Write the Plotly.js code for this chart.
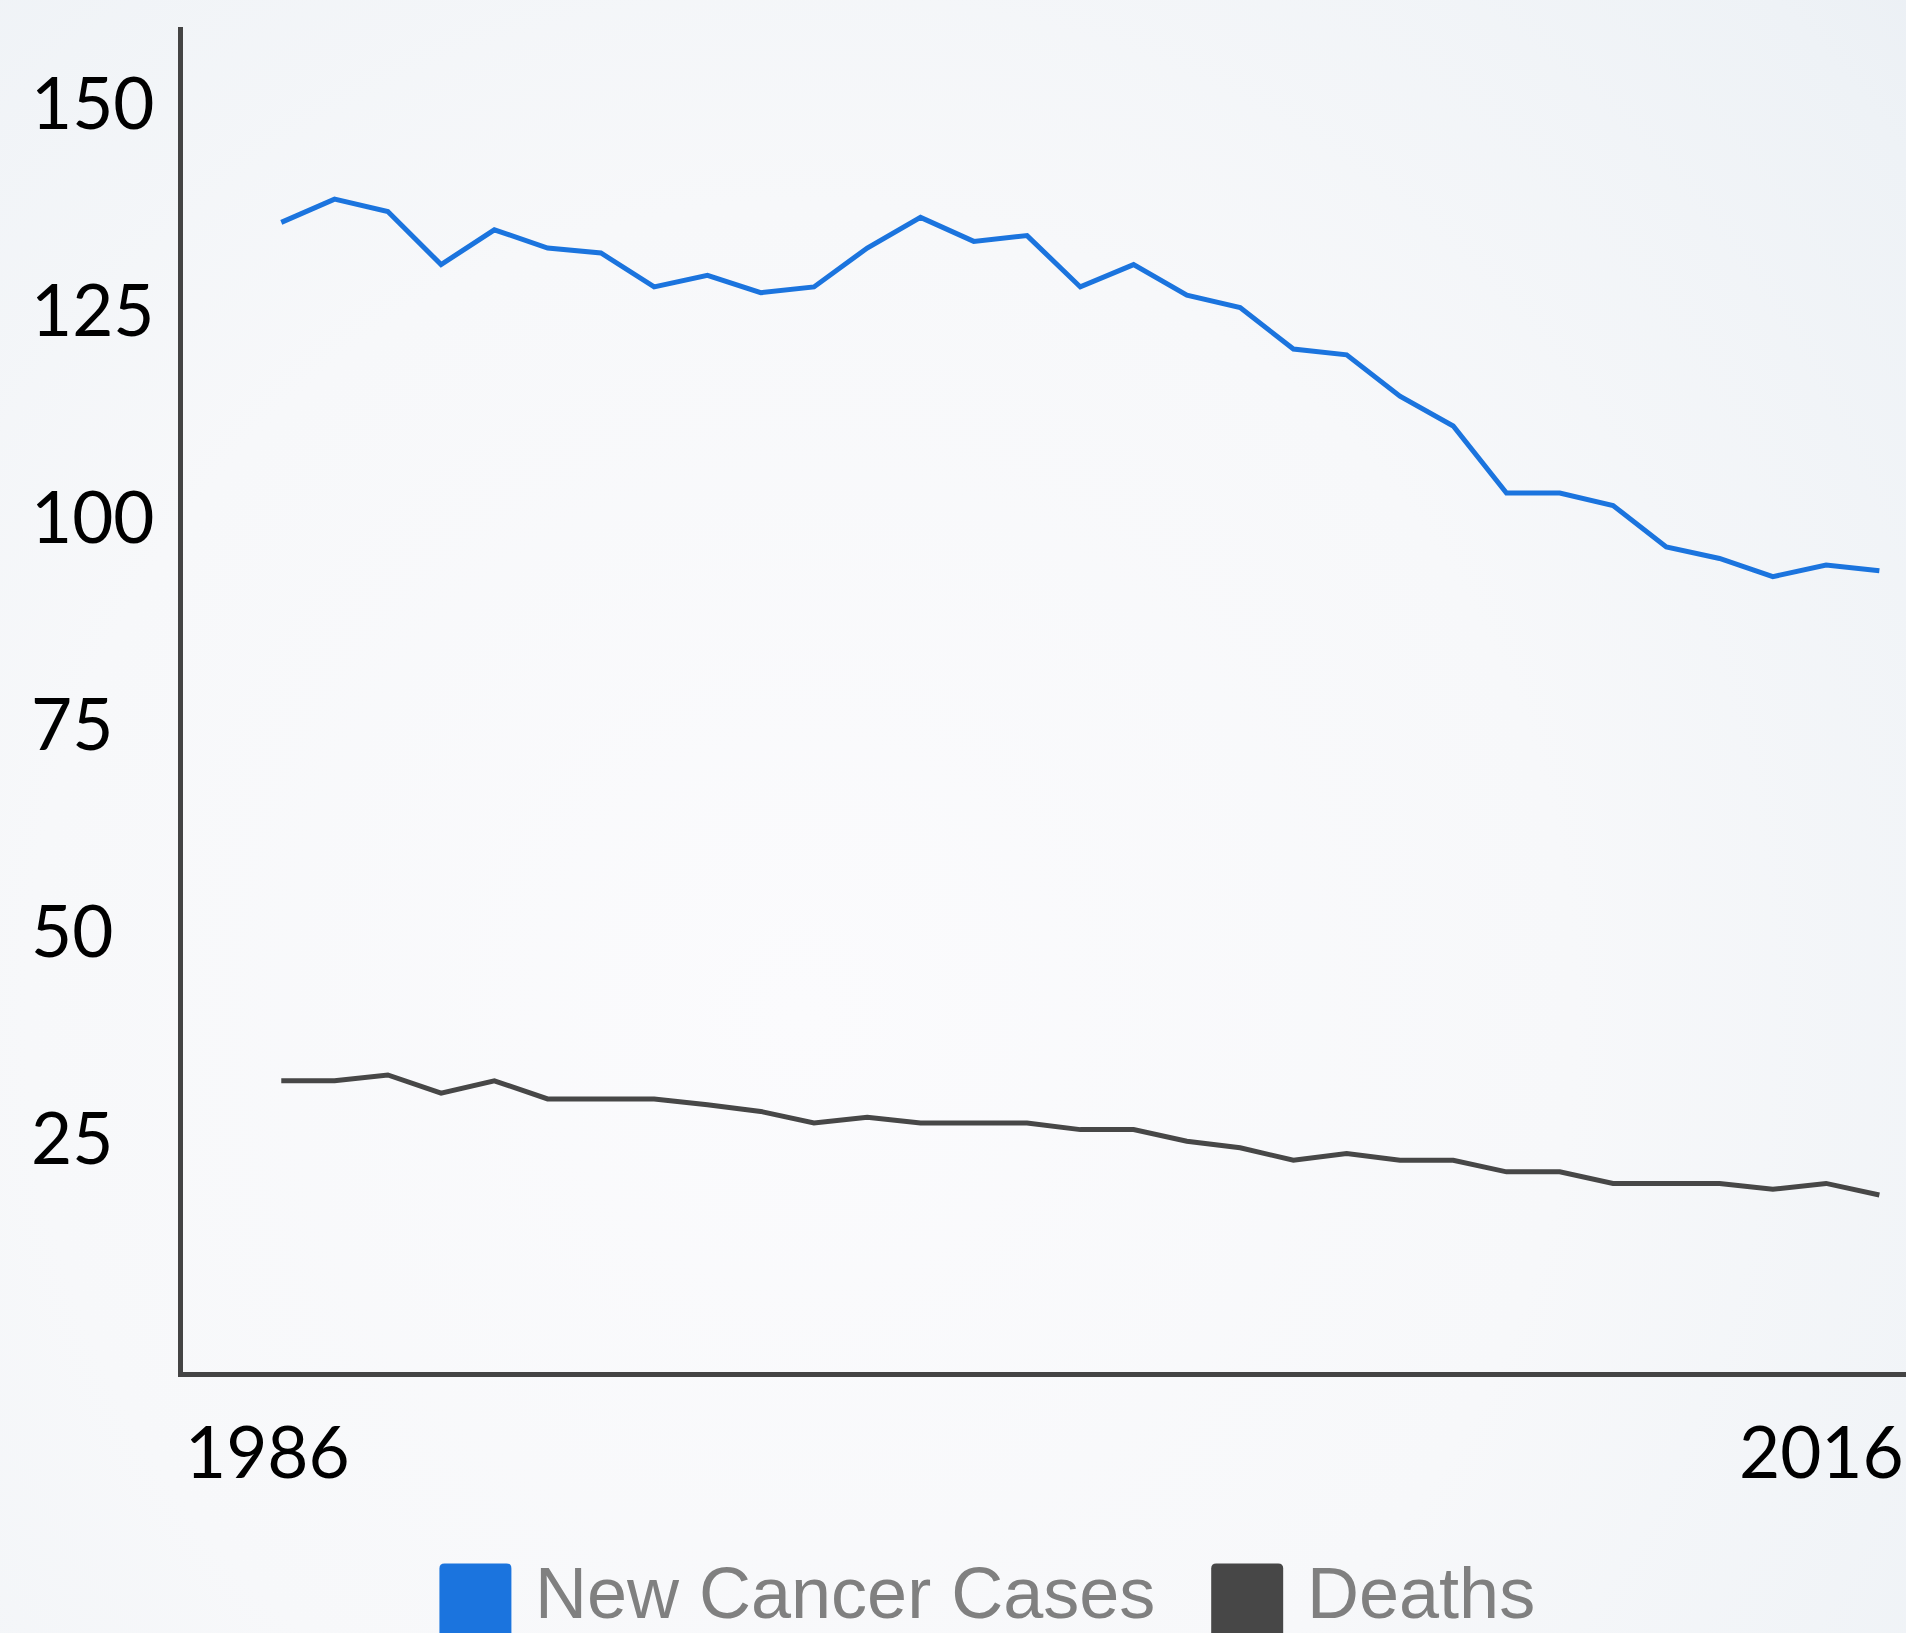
<!DOCTYPE html>
<html>
<head>
<meta charset="utf-8">
<script src="https://cdn.plot.ly/plotly-3.0.1.min.js"></script>
<style>
  html, body { margin: 0; padding: 0; }
  body {
    width: 1906px; height: 1633px; overflow: hidden;
    background: radial-gradient(ellipse 90% 110% at 42% 62%, #fbfbfd 0%, #f7f8fa 45%, #eef2f6 80%, #e7ecf2 100%);
  }
  #chart { width: 1906px; height: 1633px; }
</style>
</head>
<body>
<div id="chart"></div>
<script>
// ---- data ----
const years = [1986,1987,1988,1989,1990,1991,1992,1993,1994,1995,1996,1997,1998,1999,2000,2001,2002,2003,2004,2005,2006,2007,2008,2009,2010,2011,2012,2013,2014,2015,2016];
const newCancerCases = [135.4,138.2,136.7,130.3,134.5,132.3,131.7,127.6,129.0,126.9,127.6,132.3,136.0,133.1,133.8,127.6,130.3,126.6,125.1,120.1,119.4,114.4,110.8,102.7,102.7,101.2,96.2,94.8,92.6,94.0,93.3];
const deaths = [31.7,31.7,32.4,30.2,31.7,29.5,29.5,29.5,28.8,28.0,26.6,27.3,26.6,26.6,26.6,25.8,25.8,24.4,23.6,22.1,22.9,22.1,22.1,20.7,20.7,19.3,19.3,19.3,18.6,19.3,17.9];
const seriesNames = ["New Cancer Cases", "Deaths"];
const seriesColors = ["#1b74de", "#474747"];
const yTickVals = [25, 50, 75, 100, 125, 150];
const xTickLabels = ["1986", "2016"];

// ---- layout geometry ----
const W = 1906, H = 1633;
const M = {l: 182.5, r: 0, t: 27, b: 260.5};
const PW = W - M.l - M.r, PH = H - M.t - M.b;
const px = p => (p - M.l) / PW;          // pixel x -> paper x
const py = p => (H - M.b - p) / PH;      // pixel y -> paper y

function roundedRect(x0, y0, x1, y1, r) {
  const rx = r / PW, ry = r / PH;
  const X0 = px(x0), X1 = px(x1), Ytop = py(y0), Ybot = py(y1);
  return `M ${X0 + rx},${Ytop} L ${X1 - rx},${Ytop} Q ${X1},${Ytop} ${X1},${Ytop - ry} ` +
         `L ${X1},${Ybot + ry} Q ${X1},${Ybot} ${X1 - rx},${Ybot} L ${X0 + rx},${Ybot} ` +
         `Q ${X0},${Ybot} ${X0},${Ybot + ry} L ${X0},${Ytop - ry} Q ${X0},${Ytop} ${X0 + rx},${Ytop} Z`;
}

const traces = [
  {x: years, y: newCancerCases, name: seriesNames[0], type: "scatter", mode: "lines",
   line: {color: seriesColors[0], width: 5, shape: "linear"}, showlegend: false, hoverinfo: "skip"},
  {x: years, y: deaths, name: seriesNames[1], type: "scatter", mode: "lines",
   line: {color: seriesColors[1], width: 5, shape: "linear"}, showlegend: false, hoverinfo: "skip"}
];

const tickFont = {family: "Lato, 'Open Sans', sans-serif", size: 71, color: "#000000"};
const annotations = [];
// y tick labels (left aligned)
yTickVals.forEach(v => annotations.push({
  xref: "paper", yref: "y", x: px(28), y: v, xanchor: "left", yanchor: "middle",
  text: String(v), showarrow: false, font: tickFont
}));
// x tick labels: first left-aligned at plot start, last right-aligned at plot end
annotations.push({
  xref: "paper", yref: "paper", x: px(183), y: py(1451), xanchor: "left", yanchor: "middle",
  text: xTickLabels[0], showarrow: false, font: tickFont
});
annotations.push({
  xref: "paper", yref: "paper", x: px(1906), y: py(1451), xanchor: "right", yanchor: "middle",
  text: xTickLabels[1], showarrow: false, font: tickFont
});
// legend texts
const legendX = [{sq: 439, tx: 533}, {sq: 1211, tx: 1305}];
seriesNames.forEach((n, i) => annotations.push({
  xref: "paper", yref: "paper", x: px(legendX[i].tx), y: py(1594), xanchor: "left", yanchor: "middle",
  text: n, showarrow: false,
  font: {family: "'Liberation Sans', Arial, sans-serif", size: 72, color: "#808080"}
}));

const shapes = seriesNames.map((n, i) => ({
  type: "path", xref: "paper", yref: "paper",
  path: roundedRect(legendX[i].sq, 1564, legendX[i].sq + 72, 1642, 5),
  fillcolor: seriesColors[i], line: {width: 0}
}));

const layout = {
  width: W, height: H,
  margin: M,
  paper_bgcolor: "rgba(0,0,0,0)",
  plot_bgcolor: "rgba(0,0,0,0)",
  showlegend: false,
  xaxis: {
    range: [1984.155, 2016.5], showgrid: false, zeroline: false,
    showline: true, linecolor: "#444444", linewidth: 5,
    showticklabels: false, ticks: ""
  },
  yaxis: {
    range: [-3.48, 159.0], showgrid: false, zeroline: false,
    showline: true, linecolor: "#444444", linewidth: 5,
    tickvals: yTickVals, showticklabels: false, ticks: ""
  },
  annotations: annotations,
  shapes: shapes
};

Plotly.newPlot("chart", traces, layout, {staticPlot: true, displayModeBar: false});
</script>
</body>
</html>
